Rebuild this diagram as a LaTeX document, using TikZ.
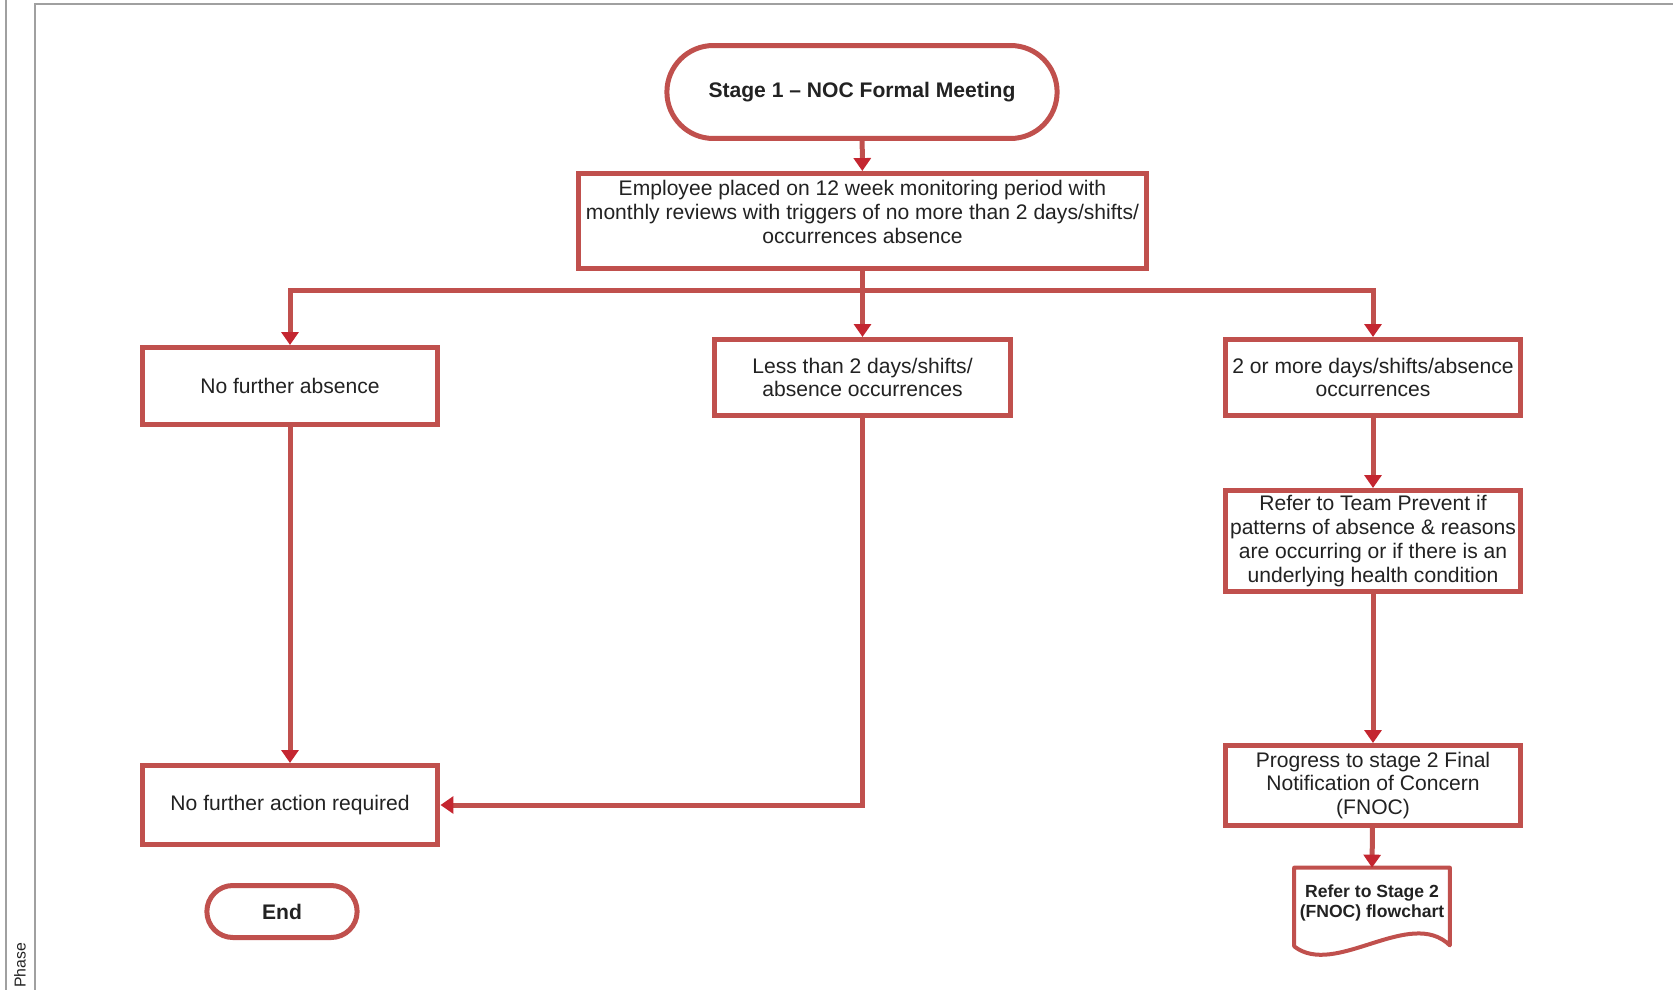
\documentclass[tikz,border=0pt]{standalone}
\usepackage{fontspec}
\setmainfont{Liberation Sans}
\usepackage{xcolor}
\usepackage{tikz}
\usetikzlibrary{arrows.meta,positioning,calc,shapes.misc}
\definecolor{flowred}{RGB}{192,80,77}
\definecolor{tipred}{RGB}{196,38,48}
\definecolor{textgray}{RGB}{34,34,34}
\definecolor{framegray}{RGB}{160,160,160}

\begin{document}
\begin{tikzpicture}[
  x=0.02cm, y=-0.02cm,
  box/.style={rectangle, draw=flowred, line width=0.1cm, fill=white,
    align=center, inner sep=2pt, minimum width=5.92cm, text=textgray,
    font=\fontsize{12}{13.5}\selectfont},
  terminal/.style={rounded rectangle, draw=flowred, line width=0.1cm,
    fill=white, align=center, text=textgray,
    font=\fontsize{12}{14}\selectfont\bfseries},
  arrow/.style={-{Triangle[length=2.6mm, width=3.4mm, color=tipred]},
    line width=0.1cm, draw=flowred},
  line/.style={line width=0.1cm, draw=flowred}
]
\useasboundingbox (0,0) rectangle (1673,990);

% frame of the page table
\draw[framegray, line width=0.04cm] (6,0) -- (6,990);
\draw[framegray, line width=0.04cm] (35,990) -- (35,4) -- (1673,4);
\node[rotate=90, anchor=west, inner sep=0pt, text=textgray,
  font=\fontsize{9}{10}\selectfont] (phase) at (20,988) {Phase};

% nodes
\node[terminal, minimum width=8.04cm, minimum height=1.86cm] (stage1) at (862,92)
  {Stage 1 -- NOC Formal Meeting};
\node[box, minimum width=11.36cm, minimum height=1.9cm] (monitor) at (862.5,221)
  {\raisebox{0.125cm}[\height][\depth]{\begin{tabular}{@{}c@{}}
   Employee placed on 12 week monitoring period with\\
   monthly reviews with triggers of no more than 2 days/shifts/\\
   occurrences absence\end{tabular}}};
\node[box, minimum height=1.54cm] (noabs) at (290,386) {No further absence};
\node[box, minimum height=1.52cm] (less) at (862.5,377.5)
  {Less than 2 days/shifts/\\absence occurrences};
\node[box, minimum height=1.52cm] (more) at (1373,377.5)
  {2 or more days/shifts/absence\\occurrences};
\node[box, minimum height=2.02cm] (prevent) at (1373,541)
  {Refer to Team Prevent if\\patterns of absence \& reasons\\
   are occurring or if there is an\\underlying health condition};
\node[box, minimum height=1.6cm] (progress) at (1373,785.5)
  {Progress to stage 2 Final\\Notification of Concern\\(FNOC)};
\node[box, minimum height=1.58cm] (noaction) at (290,805)
  {No further action required};
\node[terminal, minimum width=3.24cm, minimum height=1.04cm] (finish) at (282,911.5)
  {End};
\node[align=center, inner sep=0pt, minimum width=3.1cm, minimum height=1.4cm,
  text=textgray, font=\fontsize{10}{11.5}\selectfont\bfseries] (stage2ref) at (1372,903)
  {Refer to Stage 2\\(FNOC) flowchart};

% document outline
\draw[flowred, line width=0.08cm, line join=round]
  (stage2ref.north west) -- (stage2ref.north east)
  -- ($(stage2ref.south east)+(0,7)$)
  .. controls ($(stage2ref.south)+(38,-32)$) and ($(stage2ref.south)+(-37,40)$)
  .. ($(stage2ref.south west)+(0,8)$) -- cycle;

% connectors
\coordinate (split) at (862.5,290);
\draw[arrow] (stage1) -- (monitor);
\draw[arrow] (monitor) -- (less);
\draw[arrow] (split) -| (noabs.north);
\draw[arrow] (split) -| (more.north);
\draw[arrow] (noabs) -- (noaction);
\draw[arrow] (less.south) |- (noaction.east);
\draw[arrow] (more) -- (prevent);
\draw[arrow] (prevent) -- (progress);
\draw[arrow] (progress) -- (stage2ref.north);
\end{tikzpicture}
\end{document}
